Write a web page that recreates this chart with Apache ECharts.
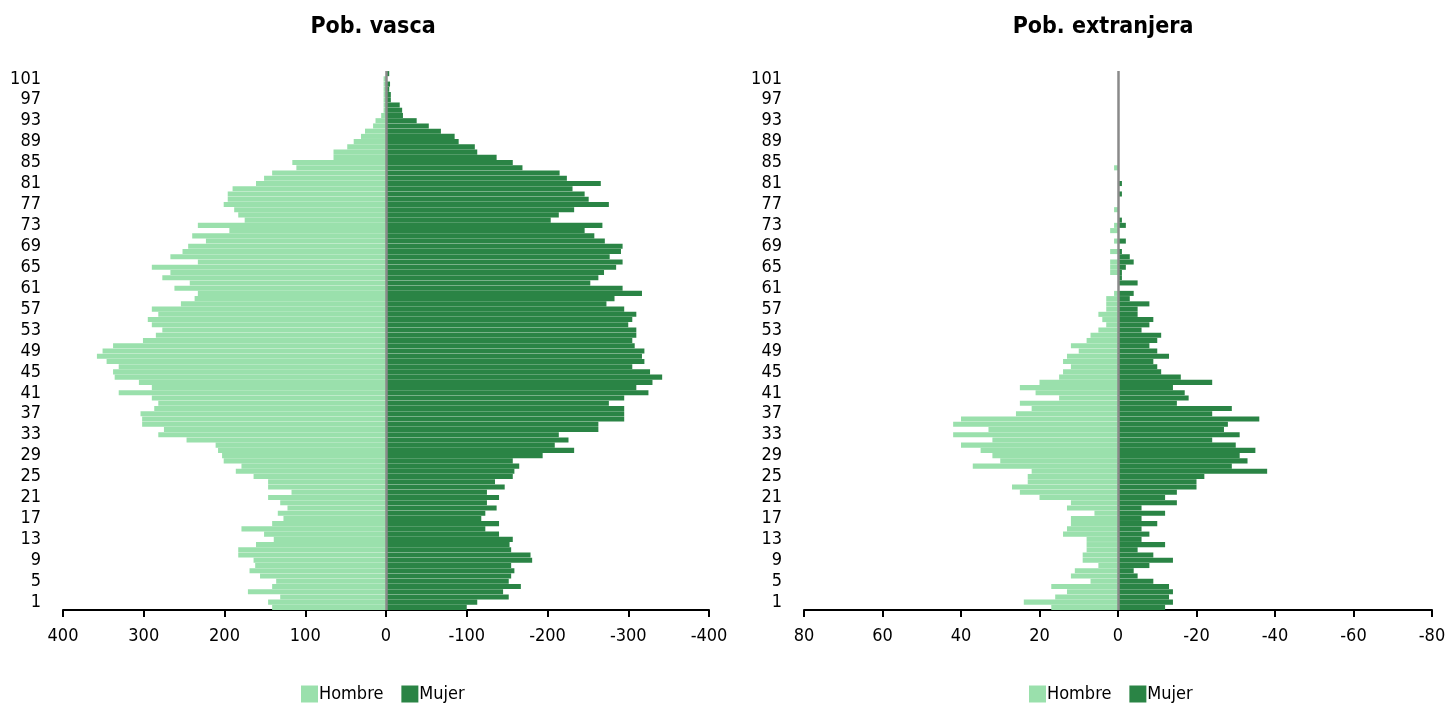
<!DOCTYPE html>
<html>
<head>
<meta charset="utf-8">
<script src="https://cdn.jsdelivr.net/npm/echarts@6/dist/echarts.min.js"></script>
<style>
html,body{margin:0;padding:0;background:#fff;}
#c{width:1449px;height:703px;}
</style>
</head>
<body>
<div id="c"></div>
<script>
// Ages 0..102
const ages = Array.from({length: 103}, (_, i) => String(i));

const vascaHombre = [141,146,131,171,141,136,156,169,162,164,183,183,161,139,151,179,141,127,134,122,131,146,117,146,146,164,186,179,201,203,208,211,247,282,275,302,302,304,287,282,290,331,290,306,336,338,331,346,358,351,338,301,285,277,290,295,282,290,254,237,233,262,243,277,267,290,233,267,252,245,223,240,194,233,175,183,188,201,196,196,190,161,151,141,111,116,65,65,48,40,31,26,16,13,6,3,3,3,3,3,3,3,0];
const vascaMujer = [100,113,152,145,167,152,155,159,155,181,179,155,153,157,140,123,140,118,123,137,125,140,125,147,135,157,159,165,157,194,233,209,226,214,263,263,295,295,295,276,295,325,310,330,342,327,305,320,317,320,308,305,310,310,300,305,310,295,273,283,317,293,253,263,270,285,293,277,291,293,271,258,246,268,204,214,233,276,251,246,231,266,224,215,169,157,137,113,110,90,85,68,53,38,21,20,17,6,6,4,5,0,4];
const extHombre = [17,24,16,13,17,7,12,11,5,9,9,8,8,8,14,13,12,12,6,13,12,20,25,27,23,23,22,37,30,32,35,40,32,42,33,42,40,26,22,25,15,21,25,20,15,14,12,14,13,10,12,8,7,5,3,4,5,3,3,3,1,0,0,0,2,2,2,0,2,0,1,0,2,1,0,0,1,0,0,0,0,0,0,0,1,0,0,0,0,0,0,0,0,0,0,0,0,0,0,0,0,0,0];
const extMujer = [12,14,13,14,13,9,5,4,8,14,9,5,12,6,8,6,10,6,12,6,15,12,15,20,20,22,38,29,33,31,35,30,24,31,27,28,36,24,29,15,18,17,14,24,16,11,10,9,13,10,8,10,11,6,8,9,5,5,8,3,4,0,5,1,1,2,4,3,1,0,2,0,0,2,1,0,0,0,0,1,0,1,0,0,0,0,0,0,0,0,0,0,0,0,0,0,0,0,0,0,0,0,0];

const leftTicks = {min: -400, max: 400, interval: 100};
const rightTicks = {min: -80, max: 80, interval: 20};

const LIGHT = '#9ae0ac';
const DARK = '#2a8445';
const FONT = "'Liberation Sans Narrow','Arial Narrow','DejaVu Sans Condensed',sans-serif";

const chart = echarts.init(document.getElementById('c'));

function xAxisCfg(gi, t) {
  return {
    type: 'value', gridIndex: gi, inverse: true,
    min: t.min, max: t.max, interval: t.interval,
    splitLine: {show: false},
    axisLine: {show: true, onZero: false, lineStyle: {color: '#000', width: 2}},
    axisTick: {show: true, length: 7, lineStyle: {color: '#000', width: 2}},
    axisLabel: {color: '#000', fontSize: 18, fontFamily: FONT, margin: 17}
  };
}
function yAxisCfg(gi) {
  return {
    type: 'category', gridIndex: gi, data: ages,
    axisLine: {show: false}, axisTick: {show: false},
    axisLabel: {
      color: '#000', fontSize: 18, fontFamily: FONT, margin: 22,
      interval: (i) => i % 4 === 1
    }
  };
}
function centerLine() {
  return {
    silent: true, symbol: 'none', label: {show: false},
    lineStyle: {color: '#8a8a8a', width: 2.5, type: 'solid'},
    data: [{xAxis: 0}]
  };
}
function barSeries(name, data, gi, color, sign, withLine) {
  const s = {
    name: name, type: 'bar', xAxisIndex: gi, yAxisIndex: gi,
    data: data.map(v => v * sign),
    barGap: '-100%', barCategoryGap: '3%',
    itemStyle: {color: color},
    animation: false
  };
  if (withLine) s.markLine = centerLine();
  return s;
}

chart.setOption({
  animation: false,
  grid: [
    {left: 63, top: 71, width: 646, height: 539},
    {left: 804, top: 71, width: 628, height: 539}
  ],
  xAxis: [xAxisCfg(0, leftTicks), xAxisCfg(1, rightTicks)],
  yAxis: [yAxisCfg(0), yAxisCfg(1)],
  legend: [
    {left: 296, top: 680, itemWidth: 17, itemHeight: 17, itemGap: 18, icon: 'rect',
     textStyle: {fontSize: 18, fontFamily: FONT, color: '#000', padding: [0,0,0,-4]}, data: ['Hombre', 'Mujer']},
    {left: 1024, top: 680, itemWidth: 17, itemHeight: 17, itemGap: 18, icon: 'rect',
     textStyle: {fontSize: 18, fontFamily: FONT, color: '#000', padding: [0,0,0,-4]}, data: ['Hombre', 'Mujer']}
  ],
  graphic: [
    {type: 'text', x: 373, y: 16, style: {text: 'Pob. vasca', fill: '#000', font: "bold 23px " + FONT, textAlign: 'center'}},
    {type: 'text', x: 1103, y: 16, style: {text: 'Pob. extranjera', fill: '#000', font: "bold 23px " + FONT, textAlign: 'center'}}
  ],
  series: [
    barSeries('Hombre', vascaHombre, 0, LIGHT, 1, true),
    barSeries('Mujer', vascaMujer, 0, DARK, -1, false),
    barSeries('Hombre', extHombre, 1, LIGHT, 1, true),
    barSeries('Mujer', extMujer, 1, DARK, -1, false)
  ]
});
</script>
</body>
</html>
